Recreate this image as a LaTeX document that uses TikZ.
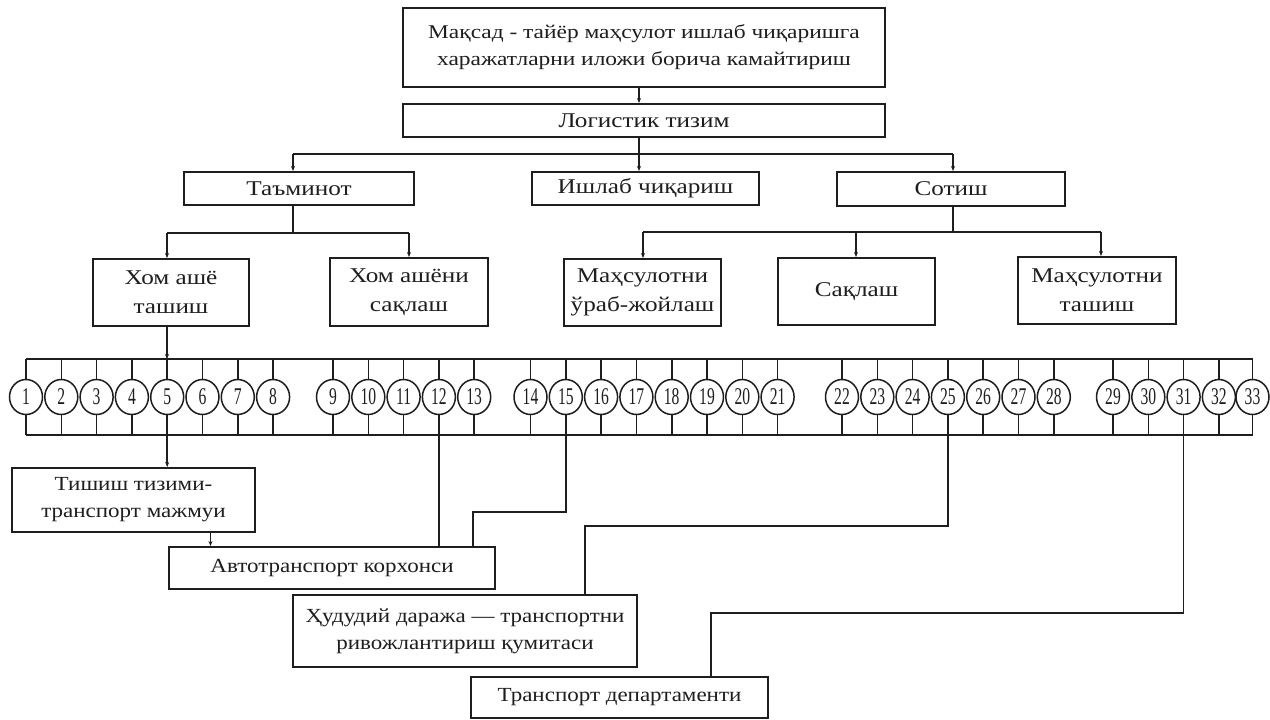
\documentclass[tikz,border=0pt]{standalone}
\usepackage{fontspec}
\setmainfont{Liberation Serif}
\newfontfamily\numfont[FakeStretch=0.65]{Liberation Serif}
\newfontfamily\boxfont[FakeStretch=1.2]{Liberation Serif}
\newfontfamily\lowfont[FakeStretch=1.15]{Liberation Serif}
\usetikzlibrary{shapes.geometric,arrows.meta}
\definecolor{ink}{HTML}{1E1E1E}
\begin{document}
\begin{tikzpicture}[x=1pt,y=-1pt,
 box/.style={draw=ink,line width=2pt,inner sep=0pt,align=center,text=ink,font=\boxfont\fontsize{21}{29}\selectfont},
 topbox/.style={box,font=\boxfont\fontsize{19.5}{27}\selectfont},
 lowbox/.style={box,font=\lowfont\fontsize{20}{27}\selectfont},
 num/.style={draw=ink,ellipse,line width=1.5pt,minimum width=33pt,minimum height=35pt,inner sep=0pt,text=ink,font=\numfont\fontsize{24}{24}\selectfont},
 ln/.style={draw=ink,line width=1.6pt},
 arr/.style={ln,-{Stealth[length=5pt,width=4pt]}}]
\useasboundingbox[fill=white] (0,0) rectangle (1270,720);

% boxes
\node[topbox,minimum width=482pt,minimum height=79pt] (goal) at (644,47.5) {Мақсад - тайёр маҳсулот ишлаб чиқаришга\\харажатларни иложи борича камайтириш};
\node[box,minimum width=482pt,minimum height=33pt] (logistic) at (644,120.5) {Логистик тизим};
\node[box,minimum width=230pt,minimum height=33pt] (tam) at (299,188.5) {Таъминот};
\node[box,minimum width=227pt,minimum height=33pt] (ishlab) at (645.5,188.5) {Ишлаб чиқариш};
\node[box,minimum width=228pt,minimum height=34pt] (sotish) at (951,189) {Сотиш};
\node[box,minimum width=156pt,minimum height=67pt] (xom1) at (171,292.5) {Хом ашё\\ташиш};
\node[box,minimum width=158pt,minimum height=68pt] (xom2) at (409,292) {Хом ашёни\\сақлаш};
\node[box,minimum width=157pt,minimum height=67pt] (mah1) at (642.5,292.5) {Маҳсулотни\\ўраб-жойлаш};
\node[box,minimum width=157pt,minimum height=67pt] (saq) at (856.5,291.5) {Сақлаш};
\node[box,minimum width=158pt,minimum height=67pt] (mah2) at (1097,290.5) {Маҳсулотни\\ташиш};
\node[lowbox,minimum width=243pt,minimum height=64pt] (tishish) at (133.5,500) {Тишиш тизими-\\транспорт мажмуи};
\node[lowbox,minimum width=326pt,minimum height=42pt] (avto) at (332,568) {Автотранспорт корхонси};
\node[lowbox,minimum width=344pt,minimum height=72pt] (hudud) at (465,631) {Ҳудудий даража — транспортни\\ривожлантириш қумитаси};
\node[lowbox,minimum width=297pt,minimum height=41pt] (dep) at (619.5,697.5) {Транспорт департаменти};

% tree
\coordinate (j1) at (639,154);
\draw[arr] (goal.south -| j1) -- (logistic.north -| j1);
\draw[arr] (logistic.south -| j1) -- (ishlab.north -| j1);
\coordinate (ja) at (293,154);
\coordinate (jb) at (953,154);
\draw[ln] (ja) -- (jb);
\draw[arr] (ja) -- (tam.north -| ja);
\draw[arr] (jb) -- (sotish.north -| jb);

\coordinate (t1) at (293,233);
\coordinate (t2) at (167,233);
\coordinate (t3) at (409,233);
\draw[ln] (tam.south -| t1) -- (t1);
\draw[ln] (t2) -- (t3);
\draw[arr] (t2) -- (xom1.north -| t2);
\draw[arr] (t3) -- (xom2.north -| t3);

\coordinate (s1) at (953,232);
\coordinate (s2) at (643,232);
\coordinate (s3) at (856,232);
\coordinate (s4) at (1101,232);
\draw[ln] (sotish.south -| s1) -- (s1);
\draw[ln] (s2) -- (s4);
\draw[arr] (s2) -- (mah1.north -| s2);
\draw[arr] (s3) -- (saq.north -| s3);
\draw[arr] (s4) -- (mah2.north -| s4);

% numbered circles
\foreach \n/\x in {1/26,2/61.3,3/96.6,4/131.9,5/167.2,6/202.5,7/237.8,8/273.1,
  9/333,10/368.3,11/403.6,12/438.9,13/474.2,
  14/530.5,15/565.8,16/601.1,17/636.4,18/671.7,19/707.0,20/742.3,21/777.6,
  22/842,23/877.3,24/912.6,25/947.9,26/983.2,27/1018.5,28/1053.8,
  29/1113,30/1148.3,31/1183.6,32/1218.9,33/1252.5}{
  \node[num] (c\n) at (\x,397) {\n};
}
\coordinate (tb) at (0,359);
\coordinate (bb) at (0,435);
\draw[ln] (c1.north |- tb) -- (c33.north |- tb);
\draw[ln] (c1.south |- bb) -- (c33.south |- bb);
\foreach \n in {1,...,33}{
  \draw[ln] (c\n.north) -- (c\n.north |- tb);
  \draw[ln] (c\n.south) -- (c\n.south |- bb);
}
\draw[arr] (xom1.south -| t2) -- (t2 |- tb);

% lower connectors
\draw[arr] (c5.south |- bb) -- (tishish.north -| c5.south);
\draw[arr] ([xshift=77pt]tishish.south) -- ([xshift=77pt]tishish.south |- avto.north);
\draw[ln] (c12.south) -- (c12.south |- avto.north);
\coordinate (k15) at (473,512);
\draw[ln] (c15.south) |- (k15) -- (k15 |- avto.north);
\coordinate (k25) at (585,526);
\draw[ln] (c25.south) |- (k25) -- (k25 |- hudud.north);
\coordinate (k31) at (711,613);
\draw[ln] (c31.south) |- (k31) -- (k31 |- dep.north);
\end{tikzpicture}
\end{document}
